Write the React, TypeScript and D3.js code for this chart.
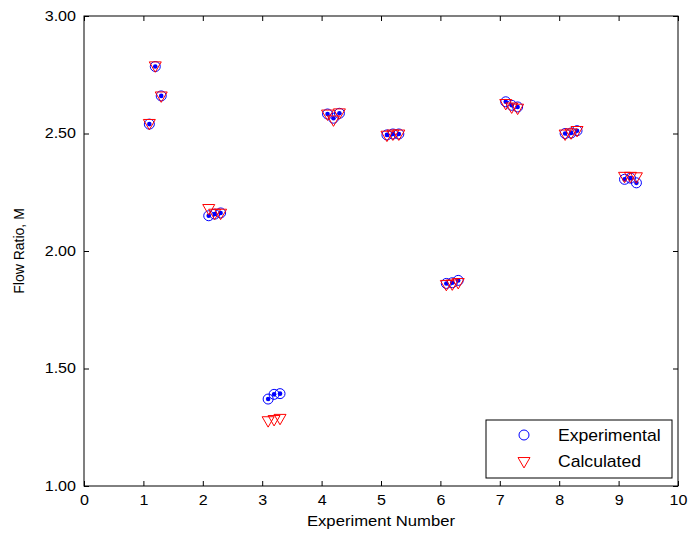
import { useEffect, useRef } from 'react';
import * as d3 from 'd3';

// experiment number (three runs per experiment)
const runX = [1.1, 1.2, 1.3, 2.1, 2.2, 2.3, 3.1, 3.2, 3.3, 4.1, 4.2, 4.3, 5.1, 5.2, 5.3,
  6.1, 6.2, 6.3, 7.1, 7.2, 7.3, 8.1, 8.2, 8.3, 9.1, 9.2, 9.3];
const experimental = [2.54, 2.785, 2.66, 2.15, 2.157, 2.162, 1.37, 1.39, 1.393, 2.583, 2.565, 2.586,
  2.494, 2.498, 2.498, 1.862, 1.865, 1.875, 2.635, 2.62, 2.613, 2.5, 2.502, 2.512, 2.305, 2.31, 2.29];
const calculated = [2.545, 2.79, 2.662, 2.183, 2.163, 2.163, 1.28, 1.285, 1.29, 2.585, 2.56, 2.59,
  2.495, 2.5, 2.5, 1.86, 1.862, 1.868, 2.63, 2.615, 2.61, 2.5, 2.505, 2.515, 2.32, 2.32, 2.318];
const xTicks = [0, 1, 2, 3, 4, 5, 6, 7, 8, 9, 10];
const yTicks = [1.0, 1.5, 2.0, 2.5, 3.0];
const legendLabels = ['Experimental', 'Calculated'];

export default function App() {
  const svgRef = useRef<SVGSVGElement>(null);

  useEffect(() => {
    if (!svgRef.current) return;
    const svg = d3.select(svgRef.current);
    svg.selectAll('*').remove();

    const width = 692, height = 539;
    const margin = { top: 16, right: 14, bottom: 53, left: 84 };
    const innerW = width - margin.left - margin.right;
    const innerH = height - margin.top - margin.bottom;
    const font = '"Liberation Sans", Arial, sans-serif';
    const stretch = 'scale(1.15,1)'; // the reference text is a bit wide

    const x = d3.scaleLinear().domain([0, 10]).range([0, innerW]);
    const y = d3.scaleLinear().domain([1, 3]).range([innerH, 0]);

    const g = svg.append('g').attr('transform', `translate(${margin.left},${margin.top})`);

    // inward ticks on all four sides
    const tick = 5;
    const addAxis = (axis: d3.Axis<d3.NumberValue>, tx: number, ty: number, labels: boolean) => {
      const a = g.append('g').attr('transform', `translate(${tx},${ty})`).call(axis);
      a.select('.domain').remove();
      a.selectAll('line').attr('stroke', '#000');
      a.selectAll('text').attr('font-family', font).attr('font-size', 14).attr('fill', '#000');
      if (!labels) a.selectAll('text').remove();
      return a;
    };
    const bottom = addAxis(d3.axisBottom(x).tickValues(xTicks).tickSize(-tick).tickPadding(9).tickFormat(d3.format('d')), 0, innerH, true);
    bottom.selectAll('text').attr('dy', '0.71em').attr('transform', stretch);
    addAxis(d3.axisTop(x).tickValues(xTicks).tickSize(-tick), 0, 0, false);
    const left = addAxis(d3.axisLeft(y).tickValues(yTicks).tickSize(-tick).tickPadding(8).tickFormat(d3.format('.2f')), 0, 0, true);
    left.selectAll('text').attr('x', -8 / 1.15).attr('transform', stretch);
    addAxis(d3.axisRight(y).tickValues(yTicks).tickSize(-tick), innerW, 0, false);

    g.append('rect')
      .attr('width', innerW).attr('height', innerH)
      .attr('fill', 'none').attr('stroke', '#000').attr('stroke-width', 1);

    const tri = (cx: number, cy: number, s: number) => {
      const h = s * Math.sqrt(3) / 2;
      return `M${cx - s / 2},${cy - h / 3}L${cx + s / 2},${cy - h / 3}L${cx},${cy + (2 * h) / 3}Z`;
    };

    // experimental: circles with dot
    g.append('g').selectAll('circle').data(experimental).join('circle')
      .attr('cx', (d, i) => x(runX[i])).attr('cy', d => y(d)).attr('r', 5)
      .attr('fill', 'none').attr('stroke', '#0000ff').attr('stroke-width', 1);
    g.append('g').selectAll('circle').data(experimental).join('circle')
      .attr('cx', (d, i) => x(runX[i])).attr('cy', d => y(d)).attr('r', 2.3)
      .attr('fill', '#0000ff');

    // calculated: down triangles
    g.append('g').selectAll('path').data(calculated).join('path')
      .attr('d', (d, i) => tri(x(runX[i]), y(d), 12))
      .attr('fill', 'none').attr('stroke', '#ff0000').attr('stroke-width', 1);

    // legend
    const lg = svg.append('g').attr('transform', 'translate(486,420)');
    lg.append('rect').attr('width', 186).attr('height', 58)
      .attr('fill', '#fff').attr('stroke', '#000').attr('stroke-width', 1);
    lg.append('circle').attr('cx', 38).attr('cy', 15).attr('r', 5)
      .attr('fill', 'none').attr('stroke', '#0000ff');
    lg.append('path').attr('d', tri(38, 41, 12))
      .attr('fill', 'none').attr('stroke', '#ff0000');
    lg.selectAll('text.lbl').data(legendLabels).join('text')
      .attr('class', 'lbl')
      .attr('transform', (d, i) => `translate(72,${15 + i * 26}) scale(1.1,1)`)
      .attr('dy', '0.35em')
      .attr('font-family', font).attr('font-size', 16)
      .text(d => d);

    // axis labels
    svg.append('text')
      .attr('transform', `translate(${margin.left + innerW / 2},526) ${stretch}`)
      .attr('text-anchor', 'middle')
      .attr('font-family', font).attr('font-size', 14.5)
      .text('Experiment Number');
    svg.append('text')
      .attr('transform', `translate(24,${margin.top + innerH / 2}) rotate(-90)`)
      .attr('text-anchor', 'middle')
      .attr('font-family', font).attr('font-size', 14)
      .text('Flow Ratio, M');
  }, []);

  return (
    <div style={{ position: 'absolute', left: 0, top: 0 }}>
      <svg ref={svgRef} width={692} height={539} style={{ display: 'block', background: '#fff' }} />
    </div>
  );
}
